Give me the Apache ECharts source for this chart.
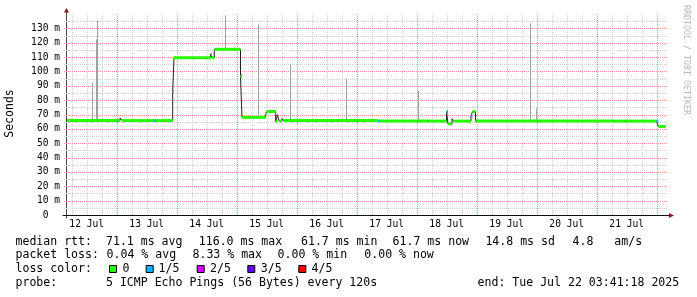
<!DOCTYPE html>
<html><head><meta charset="utf-8">
<script src="https://cdn.jsdelivr.net/npm/echarts@6/dist/echarts.min.js"></script>
<style>html,body{margin:0;padding:0;background:#fff}#c{width:697px;height:297px}</style>
</head><body><div id="c"></div>
<script>
// x values: hours since 2025-07-12 00:00
const xStart = 4.12, xEnd = 244.12, dataEnd = 243.72;
const dayLabels = ['12 Jul','13 Jul','14 Jul','15 Jul','16 Jul','17 Jul','18 Jul','19 Jul','20 Jul','21 Jul'];
const dayLabelPos = [12,36,60,84,108,132,156,180,204,228];
const majorX = [24,48,72,96,120,144,168,192,216,240];
const minorX = [6,12,18,30,36,42,54,60,66,78,84,90,102,108,114,126,132,138,150,156,162,174,180,186,198,204,210,222,228,234];
const yLabelVals = [0,10,20,30,40,50,60,70,80,90,100,110,120,130];
const yLabels = ['0  ','10 m','20 m','30 m','40 m','50 m','60 m','70 m','80 m','90 m','100 m','110 m','120 m','130 m'];
const yMajor = [10,20,30,40,50,60,70,80,90,100,110,120,130];
const yMinor = [5,15,25,35,45,55,65,75,85,95,105,115,125,135];

// median rtt (ms): runs starting at runStart, value runValue, loss level runLoss (-1 = only dark line)
const runStart = [4.12,25.32,26.12,33.92,34.24,39.04,39.72,46.4,46.92,61.6,62.12,63.04,73.52,74.12,83.44,84.0,87.6,88.32,88.92,90.12,90.72,128.52,128.92,148.12,148.52,155.92,156.52,158.12,158.72,165.72,166.32,167.52,222.52,222.92,227.32,227.72,239.92,240.64];
const runValue = [65.8,67.6,65.8,65.8,65.8,65.8,65.8,86.0,109.6,112.0,109.6,115.4,96.4,68.0,70.0,72.1,65.2,69.8,65.5,67.2,65.8,65.4,65.4,65.4,65.4,72.0,63.5,67.0,65.4,69.0,72.0,65.4,65.4,65.4,65.4,65.4,65.4,61.7];
const runLoss  = [0,-1,0,1,0,1,0,0,0,0,0,0,0,0,0,0,0,-1,0,-1,0,1,0,1,0,1,0,-1,0,1,0,0,1,0,1,0,1,0];

// smoke spikes (max ping) in ms
const spikeT   = [14.24,15.84,16.24,67.44,80.64,93.44,115.8,144.64,189.44,191.84];
const spikeTop = [92.4,122.3,135.5,139.0,132.7,104.9,95.0,86.4,133.6,74.1];

const lossColors = ['#26ff00','#00b8ff','#d000ff','#5e00ff','#ff0000'];
const lossNames = ['0','1/5','2/5','3/5','4/5'];

function medianAt(t){ let v = runValue[0]; for (let i=0;i<runStart.length;i++){ if (runStart[i] <= t) v = runValue[i]; } return v; }

const stepData = runStart.map((t,i)=>[t, runValue[i]]);
stepData.push([dataEnd, runValue[runValue.length-1]]);
const segData = runStart.map((t,i)=>[t, i+1<runStart.length ? runStart[i+1] : dataEnd, runValue[i], runLoss[i]]).filter(d=>d[3]>=0);
const smokeData = spikeT.map((t,i)=>[t, medianAt(t), spikeTop[i]]);
// grid lines: [orientation (0 vertical,1 horizontal), value, major flag]
const gridData = [].concat(
  minorX.map(v=>[0,v,0]), yMinor.map(v=>[1,v,0]),
  majorX.map(v=>[0,v,1]), yMajor.map(v=>[1,v,1]));

const mono = '"DejaVu Sans Mono", monospace';
const chart = echarts.init(document.getElementById('c'), null, {renderer:'canvas'});
const option = {
  animation:false,
  backgroundColor:'#ffffff',
  grid:{left:67, right:30, top:14, bottom:82, containLabel:false},
  xAxis:{type:'value', min:xStart, max:xEnd, position:'bottom',
    axisLine:{show:false}, axisTick:{show:false}, splitLine:{show:false},
    axisLabel:{show:true, customValues:dayLabelPos, formatter:v=>dayLabels[dayLabelPos.indexOf(v)], fontFamily:mono, fontSize:9.6, color:'#000', margin:4}},
  yAxis:{type:'value', min:0, max:140, position:'left',
    axisLine:{show:false}, axisTick:{show:false}, splitLine:{show:false},
    axisLabel:{show:true, customValues:yLabelVals, formatter:v=>yLabels[yLabelVals.indexOf(v)], fontFamily:mono, fontSize:9.6, color:'#000', margin:7}},
  series:[
    {type:'custom', name:'grid', z:1, clip:false, silent:true, data:gridData,
     renderItem:(params, api)=>{
       const o = api.value(0), v = api.value(1), major = api.value(2);
       let p0, p1;
       if (o === 0) { p0 = api.coord([v, 0]); p1 = api.coord([v, 140]); const x = Math.round(p0[0]) + 0.5; p0[0] = x; p1[0] = x; p1[1] -= 1; }
       else { p0 = api.coord([xStart, v]); p1 = api.coord([xEnd, v]); const y = Math.round(p0[1]) + 0.5; p0[1] = y; p1[1] = y; p0[0] -= 3; p1[0] += 1; }
       return {type:'line', z2: major ? 2 : 1, shape:{x1:p0[0], y1:p0[1], x2:p1[0], y2:p1[1]},
               style:{stroke: major ? '#f09090' : '#d0d0d0', lineWidth:1, lineDash:[1,1]}};
     }},
    {type:'custom', name:'smoke', z:2, clip:true, data:smokeData,
     encode:{x:0, y:[1,2]},
     renderItem:(params, api)=>{
       const p0 = api.coord([api.value(0), api.value(1)]);
       const p1 = api.coord([api.value(0), api.value(2)]);
       const x = Math.round(p0[0]) + 0.5;
       return {type:'line', shape:{x1:x, y1:p0[1], x2:x, y2:p1[1]}, style:{stroke:'#a0a0a0', lineWidth:1}};
     }},
    {type:'line', name:'median', z:3, step:'end', data:stepData, symbol:'none',
     lineStyle:{color:'#202020', width:1}},
    {type:'custom', name:'loss', z:4, clip:true, data:segData,
     encode:{x:[0,1], y:2},
     renderItem:(params, api)=>{
       const p0 = api.coord([api.value(0), api.value(2)]);
       const p1 = api.coord([api.value(1), api.value(2)]);
       return {type:'line', shape:{x1:p0[0], y1:p0[1], x2:p1[0], y2:p1[1]}, style:{stroke:lossColors[api.value(3)], lineWidth:3, lineCap:'butt'}};
     }}
  ]
};
chart.setOption(option);

// axes, arrows and legend text
const o = chart.convertToPixel({xAxisIndex:0, yAxisIndex:0}, [xStart, 0]);
const tr = chart.convertToPixel({xAxisIndex:0, yAxisIndex:0}, [xEnd, 140]);
const ox = Math.round(o[0]) - 0.5, oy = Math.round(o[1]) + 0.5;
const legendFont = '11.55px ' + mono;
function txt(s, x, y){ return {type:'text', x:x, y:y, silent:true, style:{text:s, font:legendFont, fill:'#000', verticalAlign:'middle'}}; }
const g = [
  {type:'line', shape:{x1:ox, y1:oy+3, x2:ox, y2:tr[1]-3}, style:{stroke:'#444', lineWidth:1}},
  {type:'line', shape:{x1:ox-4, y1:oy, x2:tr[0]+3, y2:oy}, style:{stroke:'#111', lineWidth:1}},
  {type:'polygon', shape:{points:[[ox-2.5, tr[1]-1.5],[ox+2.5, tr[1]-1.5],[ox, tr[1]-6]]}, style:{fill:'#8b1a1a'}},
  {type:'polygon', shape:{points:[[tr[0]+2, oy-2.5],[tr[0]+2, oy+2.5],[tr[0]+7, oy]]}, style:{fill:'#8b1a1a'}},
  {type:'text', x:10, y:113.5, rotation:Math.PI/2, silent:true, style:{text:'Seconds', font:'11.5px ' + mono, fill:'#000', align:'center', verticalAlign:'middle'}},
  {type:'text', x:686, y:60, rotation:-Math.PI/2, silent:true, style:{text:'RRDTOOL / TOBI OETIKER', font:'8.3px ' + mono, fill:'#b8b8b8', align:'center', verticalAlign:'middle'}},
  txt('median rtt:', 15.5, 241.5), txt('71.1 ms avg', 106, 241.5), txt('116.0 ms max', 198.8, 241.5),
  txt('61.7 ms min', 301, 241.5), txt('61.7 ms now', 392.6, 241.5), txt('14.8 ms sd', 485.4, 241.5),
  txt('4.8', 572.6, 241.5), txt('am/s', 614.3, 241.5),
  txt('packet loss:', 15.5, 255), txt('0.04 % avg', 106.6, 255), txt('8.33 % max', 192.5, 255),
  txt('0.00 % min', 277.6, 255), txt('0.00 % now', 364.3, 255),
  txt('loss color:', 15.5, 269),
  txt('probe:', 15.5, 282.7), txt('5 ICMP Echo Pings (56 Bytes) every 120s', 106, 282.7),
  txt('end: Tue Jul 22 03:41:18 2025', 477.6, 282.7)
];
const sqX = [109, 145.7, 196.7, 247.3, 298.3];
const lblX = [122.5, 158.6, 210, 260.8, 311.6];
lossNames.forEach((n,i)=>{
  g.push({type:'rect', shape:{x:sqX[i]+0.5, y:265.5, width:7, height:7}, style:{fill:lossColors[i], stroke:'#000', lineWidth:1}});
  g.push(txt(n, lblX[i], 269));
});
chart.setOption({graphic:g});
</script></body></html>
